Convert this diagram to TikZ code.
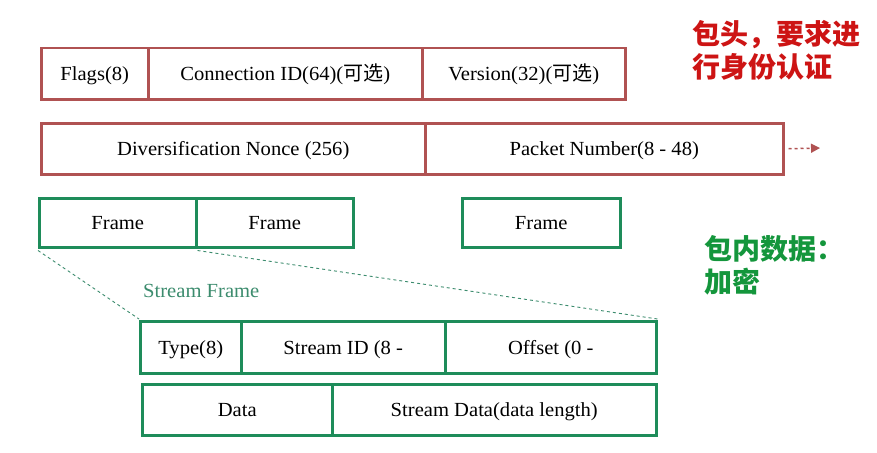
\documentclass[tikz,border=0pt]{standalone}
\usepackage{fontspec}
\setmainfont{Liberation Serif}[FakeStretch=1.03]
\newfontfamily\cjk{Noto Sans CJK SC}
\usetikzlibrary{arrows.meta}
\definecolor{hdr}{RGB}{176,82,82}
\definecolor{grn}{RGB}{30,140,90}
\definecolor{redt}{RGB}{205,20,20}
\definecolor{grnt}{RGB}{20,150,60}
\definecolor{sft}{RGB}{60,140,110}
\begin{document}
\begin{tikzpicture}[x=1pt,y=-1pt,
 cell/.style={draw,line width=2.5pt,inner sep=0pt,anchor=north west,font=\fontsize{20}{22}\selectfont,text=black,text height=16pt,text depth=2pt},
 hcell/.style={cell,draw=hdr},
 gcell/.style={cell,draw=grn},
 zoomline/.style={draw=sft,dashed,line width=0.9pt},
 label/.style={inner sep=0pt,anchor=north west,align=left,font=\cjk\bfseries\fontsize{28}{33}\selectfont}
]
\useasboundingbox (0,0) rectangle (877,452);
\fill[white] (0,0) rectangle (877,452);
% header row 1
\node[hcell,minimum width=107pt,minimum height=51pt] (flags) at (40,47) {Flags(8)};
\node[hcell,minimum width=274pt,minimum height=51pt] (conn) at (147,47) {Connection ID(64)({\cjk 可选})};
\node[hcell,minimum width=203pt,minimum height=51pt] (ver) at (421,47) {Version(32)({\cjk 可选})};
% header row 2
\node[hcell,minimum width=384pt,minimum height=51pt] (nonce) at (40,122) {Diversification Nonce (256)};
\node[hcell,minimum width=358pt,minimum height=51pt] (pn) at (424,122) {Packet Number(8 - 48)};
\coordinate (arrEnd) at (820,148);
\draw[hdr,dashed,line width=1.5pt,-{Triangle[length=9pt,width=9pt]}] ([xshift=4pt]pn.east) -- (arrEnd);
% frames
\node[gcell,minimum width=157pt,minimum height=49pt] (f1) at (38,197) {Frame};
\node[gcell,minimum width=157pt,minimum height=49pt] (f2) at (195,197) {Frame};
\node[gcell,minimum width=158pt,minimum height=49pt] (f3) at (461,197) {Frame};
% stream frame
\node[anchor=west,inner sep=0pt,text=sft,font=\fontsize{20}{22}\selectfont] (sflabel) at (143,291) {Stream Frame};
\node[gcell,minimum width=101pt,minimum height=52pt] (type) at (139,320) {Type(8)};
\node[gcell,minimum width=204pt,minimum height=52pt] (sid) at (240,320) {Stream ID (8 -};
\node[gcell,minimum width=211pt,minimum height=52pt] (off) at (444,320) {Offset (0 -};
\node[gcell,minimum width=190pt,minimum height=51pt] (data) at (141,383) {Data};
\node[gcell,minimum width=324pt,minimum height=51pt] (sdata) at (331,383) {Stream Data(data length)};
\draw[zoomline] ([yshift=-2pt]f1.south west) -- ([yshift=1pt]type.north west);
\draw[zoomline] ([yshift=-2pt]f1.south east) -- ([yshift=1pt]off.north east);
% labels
\node[label,text=redt] (hdrlabel) at (692,20) {包头，要求进\\行身份认证};
\node[label,text=grnt] (datalabel) at (704,235) {包内数据：\\加密};
\end{tikzpicture}
\end{document}
